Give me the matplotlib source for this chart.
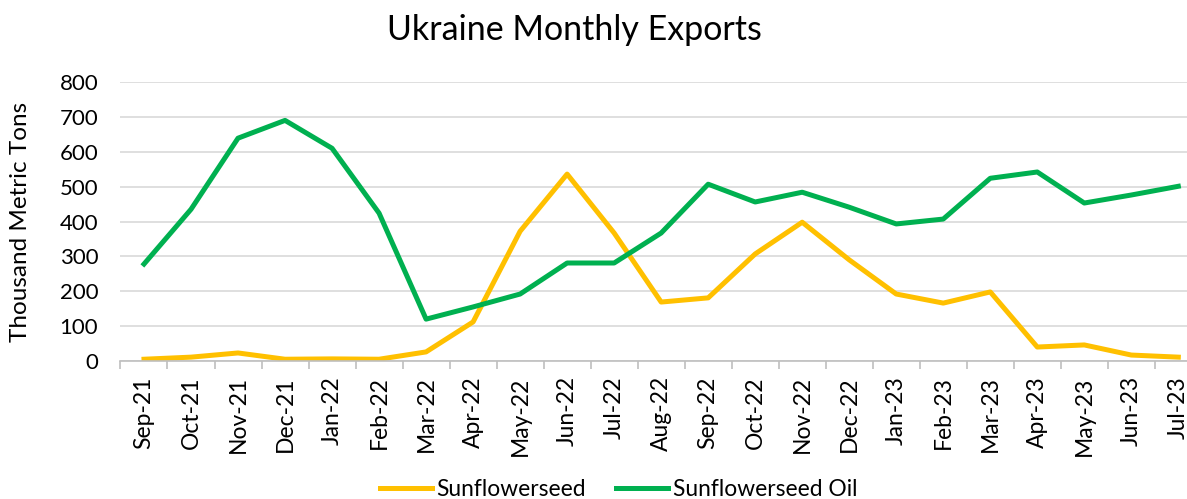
import numpy as np
import matplotlib
matplotlib.use("Agg")
import matplotlib.pyplot as plt

plt.rcParams['font.family'] = ['Lato', 'DejaVu Sans']

# Data (thousand metric tons)
months = ["Sep-21", "Oct-21", "Nov-21", "Dec-21", "Jan-22", "Feb-22", "Mar-22",
          "Apr-22", "May-22", "Jun-22", "Jul-22", "Aug-22", "Sep-22", "Oct-22",
          "Nov-22", "Dec-22", "Jan-23", "Feb-23", "Mar-23", "Apr-23", "May-23",
          "Jun-23", "Jul-23"]
seed = [5, 11, 23, 5, 6, 5, 26, 112, 372, 536, 367, 169, 181, 307, 398, 290,
        192, 166, 198, 40, 46, 17, 11]
oil = [278, 435, 639, 690, 610, 424, 120, 155, 192, 281, 281, 367, 507, 456,
       484, 441, 393, 407, 524, 542, 453, 476, 501]

gold = "#FFC000"
green = "#00B050"

fig = plt.figure(figsize=(11.87, 4.99), dpi=100)
ax = fig.add_axes([0.1015, 0.2766, 0.911, 0.559])

x = np.arange(len(months))
ax.plot(x, seed, color=gold, lw=3.6, label="Sunflowerseed", solid_joinstyle="round")
ax.plot(x, oil, color=green, lw=3.6, label="Sunflowerseed Oil", solid_joinstyle="round")

ax.set_xlim(-0.5, len(months) - 0.5)
ax.set_ylim(0, 800)
ax.set_yticks(range(0, 801, 100))
ax.yaxis.grid(True, color="#D9D9D9", lw=1.2)
ax.set_axisbelow(True)

ax.set_xticks(x)
ax.set_xticklabels(months, rotation=90, fontsize=16.5)
ax.tick_params(axis="x", length=0, pad=11)
ax.set_xticks(np.arange(-0.5, len(months), 1), minor=True)
ax.tick_params(axis="x", which="minor", length=6, color="#BFBFBF", width=1.2)
ax.tick_params(axis="y", length=0, labelsize=16, pad=16)

for s in ["top", "right", "left"]:
    ax.spines[s].set_visible(False)
ax.spines["bottom"].set_color("#BFBFBF")
ax.spines["bottom"].set_linewidth(1.2)

ax.set_ylabel("Thousand Metric Tons", fontsize=17.5)
ax.yaxis.set_label_coords(-0.083, 0.5)
fig.text(0.484, 0.94, "Ukraine Monthly Exports", fontsize=24.5, ha="center", va="center")

fig.legend(loc="center", bbox_to_anchor=(0.521, 0.02), ncol=2, frameon=False,
           fontsize=16.4, handlelength=2.3, columnspacing=1.3, handletextpad=0.2)

fig.savefig("out.png", dpi=100)
